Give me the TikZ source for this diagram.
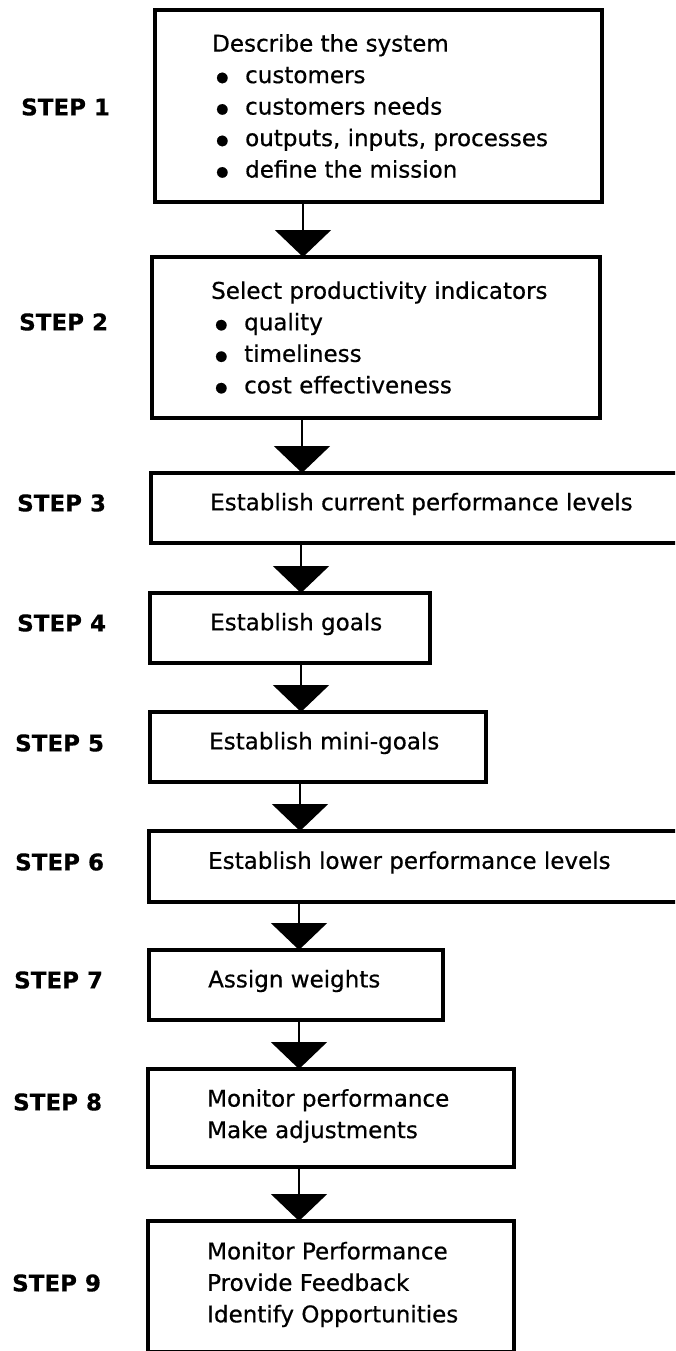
\documentclass[tikz,border=0pt]{standalone}
\usepackage{fontspec}
\setmainfont{DejaVu Sans}
\newfontfamily\boxfont[FakeBold=0.6]{DejaVu Sans}
\newfontfamily\stepfont[FakeBold=0.4]{DejaVu Sans Bold}
\usetikzlibrary{arrows.meta}
\begin{document}
\begin{tikzpicture}[x=1pt,y=-1pt,
  stepbox/.style={draw=black, line width=3.5pt, rectangle, outer sep=0pt, inner sep=0pt, anchor=north west},
  boxtext/.style={anchor=west, align=left, inner sep=0pt, font=\boxfont\fontsize{23}{31.5}\selectfont},
  steplabel/.style={anchor=west, inner sep=0pt, font=\stepfont\fontsize{23}{27}\selectfont},
  flow/.style={line width=2pt, -{Triangle[width=56pt,length=27pt]}}]
\newcommand{\itm}[1]{\hspace*{4pt}\makebox[29pt][l]{\raisebox{1.5pt}{\fontsize{14}{14}\selectfont ●}}#1}

% page frame
\useasboundingbox (0,0) rectangle (675,1351);
\fill[white] (0,0) rectangle (675,1351);
\clip (0,0) rectangle (675,1351);

% process boxes (left, top, width, height)
\node[stepbox, minimum width=447pt, minimum height=192pt] (b1) at (155,10) {};
\node[stepbox, minimum width=448pt, minimum height=161pt] (b2) at (152,257) {};
\node[stepbox, minimum width=560pt, minimum height=70pt]  (b3) at (151,473) {};
\node[stepbox, minimum width=280pt, minimum height=70pt]  (b4) at (150,593) {};
\node[stepbox, minimum width=336pt, minimum height=70pt]  (b5) at (150,712) {};
\node[stepbox, minimum width=560pt, minimum height=71pt]  (b6) at (149,831) {};
\node[stepbox, minimum width=294pt, minimum height=70pt]  (b7) at (149,950) {};
\node[stepbox, minimum width=366pt, minimum height=98pt]  (b8) at (148,1069) {};
\node[stepbox, minimum width=366pt, minimum height=131pt] (b9) at (148,1221) {};

% box contents
\node[boxtext] (t1) at ([xshift=57pt]b1.west) {Describe the system\\
  \itm{customers}\\ \itm{customers needs}\\ \itm{outputs, inputs, processes}\\ \itm{define the mission}};
\node[boxtext] (t2) at ([xshift=59pt]b2.west) {Select productivity indicators\\
  \itm{quality}\\ \itm{timeliness}\\ \itm{cost effectiveness}};
\node[boxtext] (t3) at ([xshift=59pt,yshift=4pt]b3.west) {Establish current performance levels};
\node[boxtext] (t4) at ([xshift=60pt,yshift=4pt]b4.west) {Establish goals};
\node[boxtext] (t5) at ([xshift=59pt,yshift=4pt]b5.west) {Establish mini-goals};
\node[boxtext] (t6) at ([xshift=59pt,yshift=4pt]b6.west) {Establish lower performance levels};
\node[boxtext] (t7) at ([xshift=59pt,yshift=4pt]b7.west) {Assign weights};
\node[boxtext] (t8) at ([xshift=59pt,yshift=2pt]b8.west) {Monitor performance\\ Make adjustments};
\node[boxtext] (t9) at ([xshift=59pt,yshift=2pt]b9.west) {Monitor Performance\\ Provide Feedback\\ Identify Opportunities};

% step labels
\node[steplabel] (s1) at (21,107)  {STEP 1};
\node[steplabel] (s2) at (19,322)  {STEP 2};
\node[steplabel] (s3) at (17,503)  {STEP 3};
\node[steplabel] (s4) at (17,623)  {STEP 4};
\node[steplabel] (s5) at (15,743)  {STEP 5};
\node[steplabel] (s6) at (15,862)  {STEP 6};
\node[steplabel] (s7) at (14,980)  {STEP 7};
\node[steplabel] (s8) at (13,1102) {STEP 8};
\node[steplabel] (s9) at (12,1283) {STEP 9};

% connector columns
\coordinate (a1) at (303,0);
\coordinate (a2) at (302,0);
\coordinate (a3) at (301,0);
\coordinate (a4) at (301,0);
\coordinate (a5) at (300,0);
\coordinate (a6) at (299,0);
\coordinate (a7) at (299,0);
\coordinate (a8) at (299,0);

% connectors
\draw[flow] (b1.south -| a1) -- (b2.north -| a1);
\draw[flow] (b2.south -| a2) -- (b3.north -| a2);
\draw[flow] (b3.south -| a3) -- (b4.north -| a3);
\draw[flow] (b4.south -| a4) -- (b5.north -| a4);
\draw[flow] (b5.south -| a5) -- (b6.north -| a5);
\draw[flow] (b6.south -| a6) -- (b7.north -| a6);
\draw[flow] (b7.south -| a7) -- (b8.north -| a7);
\draw[flow] (b8.south -| a8) -- (b9.north -| a8);
\end{tikzpicture}
\end{document}
